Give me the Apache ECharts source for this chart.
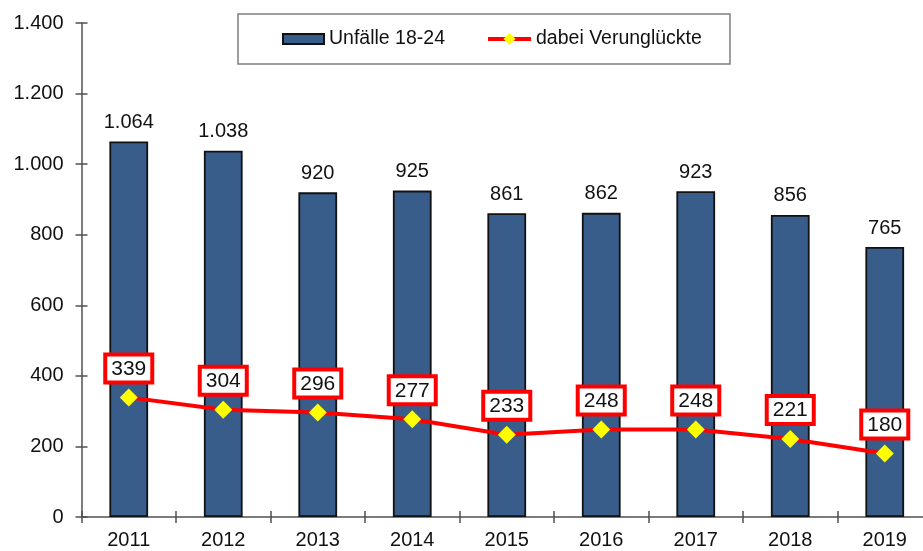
<!DOCTYPE html>
<html><head><meta charset="utf-8">
<script src="https://cdn.jsdelivr.net/npm/echarts@6/dist/echarts.min.js"></script>
<style>html,body{margin:0;padding:0;background:#fff}#c{width:923px;height:551px}</style>
</head><body><div id="c"></div>
<script>
const years = ['2011','2012','2013','2014','2015','2016','2017','2018','2019'];
const unfaelle = [1064, 1038, 920, 925, 861, 862, 923, 856, 765];
const verunglueckte = [339, 304, 296, 277, 233, 248, 248, 221, 180];
const yTicks = { min: 0, max: 1400, interval: 200 };

const FONT = 'Arial, "Liberation Sans", sans-serif';
const de = v => String(v).replace(/\B(?=(\d{3})+(?!\d))/g, '.');
const chart = echarts.init(document.getElementById('c'));
const axisCol = '#505050';
const txt = '#111';
chart.setOption({
  animation: false,
  textStyle: { fontFamily: FONT },
  grid: { left: 81.5, top: 23, height: 494, width: 850.5, containLabel: false, outerBoundsMode: 'none' },
  legend: [{
    left: 238, top: 14,
    padding: [15, 285, 15, 44],
    itemWidth: 41, itemHeight: 10,
    icon: 'rect',
    borderColor: '#7f7f7f', borderWidth: 1.5,
    backgroundColor: '#fff',
    textStyle: { fontSize: 19.5, color: txt, fontFamily: FONT },
    data: ['Unfälle 18-24']
  }, {
    left: 486, top: 29,
    padding: 0,
    itemWidth: 43, itemHeight: 15,
    z: 10,
    textStyle: { fontSize: 19.5, color: txt, fontFamily: FONT },
    data: [{ name: 'dabei Verunglückte', lineStyle: { width: 4, color: '#FF0000' } }]
  }],
  xAxis: [{
    type: 'category', data: years, position: 'bottom',
    axisLine: { lineStyle: { color: axisCol, width: 1.5 } },
    axisTick: { show: true, length: 6, lineStyle: { color: axisCol, width: 1.5 } },
    axisLabel: { fontSize: 20, color: txt, margin: 13, fontFamily: FONT },
    splitLine: { show: false }
  }, {
    type: 'category', data: years, position: 'bottom',
    axisLine: { show: false },
    axisTick: { show: true, inside: true, length: 6, lineStyle: { color: axisCol, width: 1.5 } },
    axisLabel: { show: false }
  }],
  yAxis: [{
    type: 'value', position: 'left', min: yTicks.min, max: yTicks.max, interval: yTicks.interval,
    axisLine: { show: true, lineStyle: { color: axisCol, width: 1.5 } },
    axisTick: { show: true, length: 6, lineStyle: { color: axisCol, width: 1.5 } },
    axisLabel: { fontSize: 20, color: txt, margin: 18, formatter: de, fontFamily: FONT },
    splitLine: { show: false }
  }, {
    type: 'value', position: 'left', min: yTicks.min, max: yTicks.max, interval: yTicks.interval,
    axisLine: { show: false },
    axisTick: { show: true, inside: true, length: 6, lineStyle: { color: axisCol, width: 1.5 } },
    axisLabel: { show: false },
    splitLine: { show: false }
  }],
  series: [{
    name: 'Unfälle 18-24', type: 'bar', data: unfaelle,
    barWidth: '41%',
    itemStyle: { color: '#385D8A', borderColor: '#111', borderWidth: 1.8 },
    label: { show: true, position: 'top', distance: 9, fontSize: 20, color: txt, formatter: p => de(p.value), fontFamily: FONT }
  }, {
    name: 'dabei Verunglückte', type: 'line', data: verunglueckte,
    symbol: 'diamond', symbolSize: 18,
    lineStyle: { color: '#FF0000', width: 4 },
    itemStyle: { color: '#FFFF00', borderWidth: 0 },
    z: 5,
    label: {
      show: true, position: 'top', distance: 8, fontSize: 21, color: txt, fontFamily: FONT,
      backgroundColor: '#fff', borderColor: '#FF0000', borderWidth: 4, borderRadius: 0,
      padding: [2, 4, 1, 4]
    }
  }]
});
</script></body></html>
